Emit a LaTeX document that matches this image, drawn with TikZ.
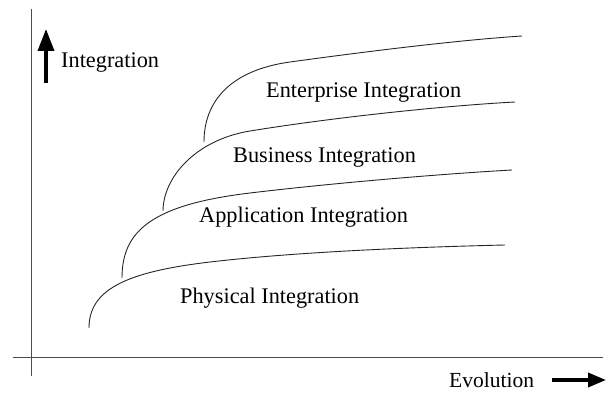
\documentclass[tikz,border=0pt]{standalone}
\usepackage{fontspec}
\setmainfont{Liberation Serif}
\usetikzlibrary{arrows.meta}
\begin{document}
\begin{tikzpicture}[x=1pt,y=-1pt,
  curve/.style={line width=0.9pt,black!85},
  axis/.style={line width=0.7pt,black!70},
  bigarrow/.style={line width=3.5pt},
  lbl/.style={font=\fontsize{22.3}{26}\selectfont,inner sep=0pt,anchor=base west}]
\useasboundingbox (0,0) rectangle (614,393);
% axes
\coordinate (vt) at (31,9);
\coordinate (vb) at (31,376);
\coordinate (hl) at (13,357);
\coordinate (hr) at (603,357);
\draw[axis] (vt) -- (vb);
\draw[axis] (hl) -- (hr);
% axis arrows
\coordinate (ua) at (46,83);
\coordinate (ub) at (46,29);
\draw[bigarrow,-{Triangle[width=16pt,length=22pt]}] (ua) -- (ub);
\node[lbl] (yl) at (61,68) {Integration};
\coordinate (ra) at (552,380);
\coordinate (rb) at (606,380);
\draw[bigarrow,-{Triangle[width=14pt,length=18pt]}] (ra) -- (rb);
\node[lbl,font=\fontsize{21.5}{25}\selectfont] (xl) at (449,387) {Evolution};
% curves
\coordinate (s1) at (89,328);
\coordinate (k1) at (210,262);
\coordinate (e1) at (505,245);
\draw[curve] (s1) .. controls (89,290) and (125,272) .. (k1) .. controls (300,251.5) and (420,247) .. (e1);
\coordinate (s2) at (122,278);
\coordinate (k2) at (250,193);
\coordinate (e2) at (512,170);
\draw[curve] (s2) .. controls (122,232) and (150,205) .. (k2) .. controls (330,183.4) and (440,174) .. (e2);
\coordinate (s3) at (163,211);
\coordinate (k3) at (250,131);
\coordinate (e3) at (515,102);
\draw[curve] (s3) .. controls (163,178) and (195,140) .. (k3) .. controls (330,118) and (440,106) .. (e3);
\coordinate (s4) at (204,142);
\coordinate (k4) at (290,62);
\coordinate (e4) at (522,36);
\draw[curve] (s4) .. controls (204,100) and (232,70) .. (k4) .. controls (370,51) and (460,40) .. (e4);
% labels
\node[lbl] (ent) at (266,98) {Enterprise Integration};
\node[lbl] (bus) at (233,163) {Business Integration};
\node[lbl] (app) at (199,223) {Application Integration};
\node[lbl] (phy) at (180,303) {Physical Integration};
\end{tikzpicture}
\end{document}
